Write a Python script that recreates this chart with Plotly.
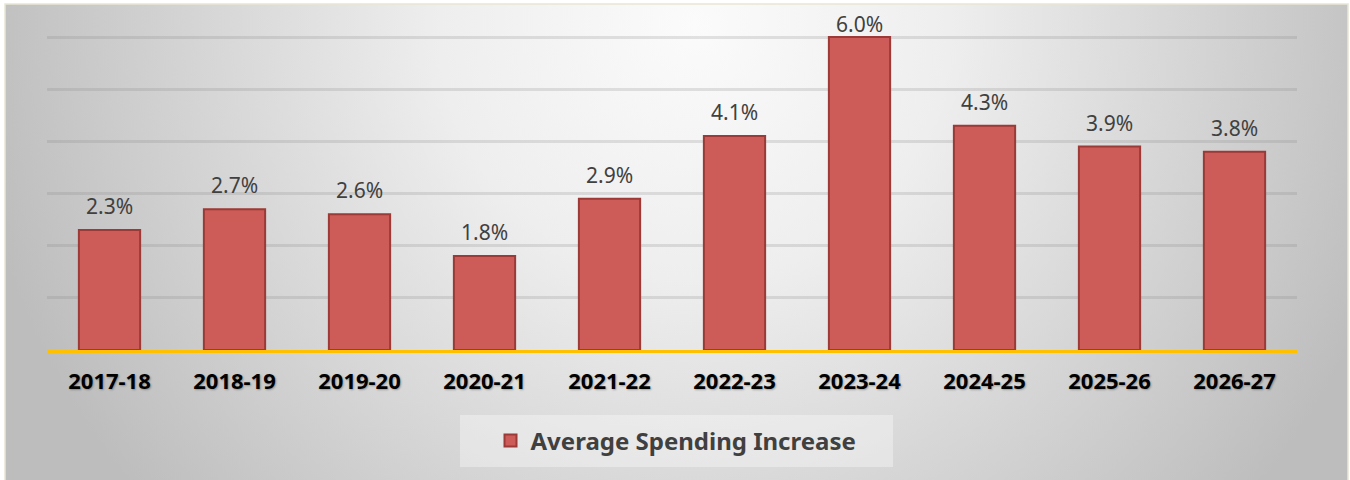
import base64
import plotly.graph_objects as go

years = ["2017-18", "2018-19", "2019-20", "2020-21", "2021-22",
         "2022-23", "2023-24", "2024-25", "2025-26", "2026-27"]
values = [2.3, 2.7, 2.6, 1.8, 2.9, 4.1, 6.0, 4.3, 3.9, 3.8]
series_name = "Average Spending Increase"

W, H = 1350, 480
PLOT_BOT = 350
YMAX = 6
px_per_unit = 313 / YMAX
YTOP = YMAX + 0.04          # small headroom so the top gridline is drawn
PLOT_TOP = PLOT_BOT - YTOP * px_per_unit
GRID6_PX = PLOT_BOT - YMAX * px_per_unit

fig = go.Figure()
fig.add_trace(go.Bar(
    x=years, y=values, name=series_name,
    marker=dict(color="#CD5B57", line=dict(color="#9B3A36", width=2)),
    showlegend=True,
))

for yr, v in zip(years, values):
    # keep label inside the chart frame (label centre at least 24 px from top)
    room = GRID6_PX + (YMAX - v) * px_per_unit - 24
    shift = min(24, room)
    fig.add_annotation(x=yr, y=v, text=f"{v:.1f}%", showarrow=False,
                       yanchor="middle", yshift=shift,
                       font=dict(family="Noto Sans", size=21, color="#404040"))

svg = ('<svg xmlns="http://www.w3.org/2000/svg" width="1343" height="476" viewBox="0 0 1343 476">'
       '<defs><radialGradient id="g" gradientUnits="userSpaceOnUse" cx="690" cy="20" r="730">'
       '<stop offset="0" stop-color="#fbfbfb"/><stop offset="0.35" stop-color="#eeeeee"/>'
       '<stop offset="1" stop-color="#bdbdbd"/>'
       '</radialGradient></defs><rect width="1343" height="476" fill="url(#g)"/></svg>')
src = "data:image/svg+xml;base64," + base64.b64encode(svg.encode()).decode()

fig.add_layout_image(source=src, xref="paper", yref="paper", x=5 / W, y=1 - 4 / H,
                     sizex=1343 / W, sizey=476 / H, xanchor="left", yanchor="top",
                     sizing="stretch", layer="below")

fig.add_shape(type="rect", xref="paper", yref="paper", x0=5 / W, x1=1348 / W,
              y0=-0.01, y1=1 - 4 / H, line=dict(color="#E9E6D3", width=1.5),
              fillcolor="rgba(0,0,0,0)", layer="below")
# legend box
fig.add_shape(type="rect", xref="paper", yref="paper", x0=460 / W, x1=893 / W,
              y0=1 - 467 / H, y1=1 - 415 / H, line=dict(width=0),
              fillcolor="rgba(255,255,255,0.35)", layer="below")

fig.update_layout(
    width=W, height=H,
    margin=dict(l=0, r=0, t=0, b=0),
    paper_bgcolor="white", plot_bgcolor="rgba(0,0,0,0)",
    bargap=0.51,
    xaxis=dict(domain=[47 / W, 1297 / W], showline=True, linecolor="#FFC000", linewidth=3,
               ticks="outside", ticklen=10, tickcolor="rgba(0,0,0,0)",
               tickfont=dict(family="Noto Sans", size=22, color="black", weight="bold",
                             shadow="1px 1px 2px rgba(0,0,0,0.3)"),
               showgrid=False),
    yaxis=dict(domain=[(H - PLOT_BOT) / H, (H - PLOT_TOP) / H], range=[0, YTOP],
               dtick=1, showticklabels=False,
               showgrid=True, gridcolor="rgba(130,130,130,0.22)", gridwidth=2.5,
               zeroline=False),
    legend=dict(orientation="h", x=676 / W, xanchor="center", y=1 - 441 / H, yanchor="middle",
                bgcolor="rgba(0,0,0,0)",
                font=dict(family="Noto Sans", size=24, color="#404040", weight="bold")),
)

fig.write_html("out.html")
